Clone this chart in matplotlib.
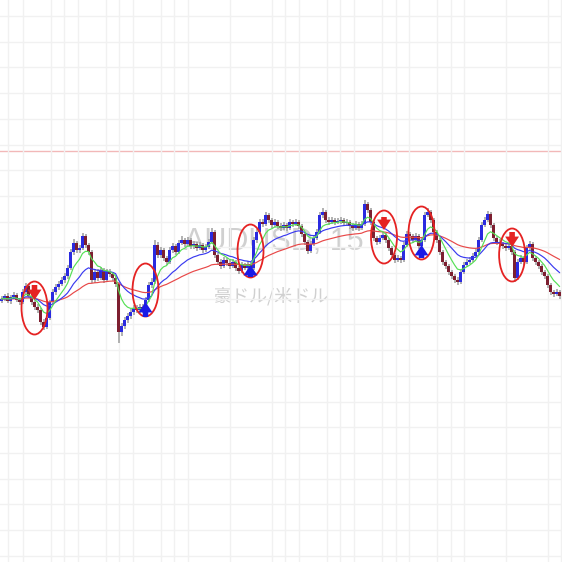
import numpy as np
import pandas as pd
import matplotlib
matplotlib.use("Agg")
import matplotlib.pyplot as plt
from matplotlib.patches import Ellipse
from matplotlib import font_manager

# ---------------- data (AUDUSD 15 min) ----------------
closes = [7301, 7304, 7299, 7303, 7305, 7300, 7298, 7308, 7314, 7304,
          7298, 7293, 7290, 7278, 7273, 7282, 7298, 7308, 7313, 7316,
          7320, 7324, 7332, 7348, 7357, 7350, 7352, 7364, 7355, 7348,
          7320, 7328, 7322, 7330, 7320, 7328, 7326, 7322, 7316, 7268,
          7274, 7280, 7284, 7288, 7292, 7290, 7293, 7290, 7300, 7315,
          7318, 7355, 7345, 7350, 7342, 7338, 7350, 7354, 7348, 7357,
          7360, 7356, 7360, 7354, 7356, 7352, 7355, 7350, 7353, 7358,
          7368, 7345, 7338, 7334, 7340, 7337, 7334, 7338, 7332, 7329,
          7335, 7332, 7336, 7332, 7360, 7368, 7378, 7376, 7385, 7380,
          7375, 7378, 7374, 7372, 7375, 7372, 7378, 7376, 7378, 7374,
          7366, 7358, 7349, 7356, 7362, 7368, 7385, 7388, 7380, 7378,
          7380, 7378, 7379, 7380, 7377, 7378, 7374, 7372, 7376, 7372,
          7376, 7396, 7390, 7378, 7362, 7358, 7362, 7365, 7360, 7352,
          7345, 7340, 7342, 7340, 7355, 7366, 7364, 7360, 7364, 7354,
          7360, 7385, 7388, 7380, 7368, 7360, 7348, 7338, 7334, 7328,
          7324, 7320, 7318, 7328, 7335, 7338, 7340, 7344, 7348, 7360,
          7375, 7380, 7386, 7375, 7362, 7358, 7356, 7354, 7352, 7354,
          7348, 7322, 7338, 7342, 7338, 7352, 7356, 7342, 7338, 7334,
          7328, 7324, 7315, 7308, 7306, 7308, 7304]
highs = [7304, 7306, 7307, 7305, 7308, 7307, 7302, 7311, 7317, 7316,
         7306, 7300, 7296, 7292, 7281, 7285, 7300, 7311, 7316, 7319,
         7323, 7327, 7335, 7351, 7361, 7359, 7355, 7367, 7366, 7357,
         7350, 7331, 7331, 7333, 7332, 7331, 7331, 7328, 7324, 7318,
         7277, 7283, 7287, 7291, 7295, 7295, 7296, 7296, 7303, 7318,
         7322, 7360, 7358, 7353, 7352, 7344, 7353, 7357, 7356, 7360,
         7364, 7362, 7363, 7362, 7359, 7358, 7358, 7357, 7356, 7361,
         7372, 7370, 7347, 7341, 7343, 7342, 7340, 7341, 7340, 7334,
         7338, 7337, 7339, 7338, 7363, 7371, 7381, 7381, 7388, 7387,
         7382, 7381, 7380, 7377, 7378, 7377, 7381, 7380, 7381, 7380,
         7376, 7368, 7360, 7359, 7365, 7371, 7388, 7392, 7390, 7383,
         7383, 7382, 7382, 7383, 7382, 7381, 7380, 7377, 7379, 7378,
         7379, 7400, 7398, 7392, 7380, 7364, 7365, 7368, 7367, 7362,
         7354, 7347, 7345, 7344, 7358, 7369, 7368, 7366, 7367, 7366,
         7363, 7388, 7392, 7390, 7382, 7370, 7362, 7350, 7340, 7336,
         7330, 7326, 7323, 7331, 7338, 7341, 7343, 7347, 7351, 7363,
         7378, 7383, 7389, 7388, 7377, 7364, 7361, 7358, 7356, 7357,
         7356, 7350, 7341, 7345, 7344, 7355, 7359, 7358, 7344, 7340,
         7336, 7330, 7326, 7317, 7310, 7311, 7310]
lows = [7297, 7299, 7297, 7296, 7301, 7298, 7295, 7296, 7306, 7302,
        7295, 7290, 7287, 7275, 7270, 7271, 7280, 7296, 7305, 7310,
        7314, 7317, 7321, 7330, 7345, 7347, 7347, 7350, 7352, 7345,
        7317, 7317, 7319, 7320, 7317, 7318, 7323, 7319, 7313, 7257,
        7264, 7271, 7277, 7281, 7285, 7287, 7287, 7287, 7288, 7298,
        7312, 7316, 7342, 7342, 7339, 7335, 7336, 7347, 7345, 7346,
        7355, 7353, 7354, 7351, 7351, 7349, 7350, 7347, 7348, 7351,
        7356, 7342, 7335, 7331, 7332, 7334, 7331, 7332, 7329, 7326,
        7327, 7330, 7330, 7329, 7330, 7357, 7366, 7373, 7374, 7377,
        7372, 7373, 7371, 7369, 7370, 7369, 7370, 7373, 7374, 7371,
        7363, 7355, 7346, 7347, 7354, 7360, 7366, 7382, 7377, 7375,
        7376, 7375, 7376, 7376, 7374, 7374, 7371, 7369, 7370, 7369,
        7370, 7374, 7387, 7375, 7359, 7355, 7356, 7360, 7357, 7349,
        7342, 7337, 7338, 7337, 7338, 7353, 7361, 7357, 7358, 7351,
        7352, 7358, 7383, 7377, 7365, 7357, 7345, 7335, 7331, 7325,
        7321, 7317, 7315, 7316, 7326, 7333, 7336, 7338, 7342, 7346,
        7358, 7373, 7378, 7372, 7359, 7355, 7353, 7351, 7349, 7350,
        7345, 7318, 7320, 7336, 7335, 7336, 7350, 7339, 7335, 7331,
        7325, 7321, 7312, 7305, 7303, 7304, 7301]
first_open = 7299

# signals: candle index, price at circle centre, direction
signal_idx = [11, 48, 83, 127.5, 140, 170.2]
signal_price = [7292, 7310, 7349, 7363, 7367, 7345]
signal_dir = ["down", "up", "up", "down", "up", "down"]
arrow_tip = [7300, 7298, 7335, 7370, 7355, 7353]
arrow_tail = [7315, 7283, 7323, 7383, 7342, 7368]

level_line = 7449
symbol_text = "AUDUSD, 15"
name_text = "豪ドル/米ドル"

# MA spans (candles)
ma_fast, ma_mid, ma_slow = 7, 18, 45

# ---------------- build ----------------
S = 1e-4
c = np.array(closes) * S
h = np.array(highs) * S
l = np.array(lows) * S
o = np.concatenate([[first_open * S], c[:-1]])
n = len(c)
x = np.arange(n) + 0.5

installed = {f.name for f in font_manager.fontManager.ttflist}
if "Liberation Sans Narrow" in installed:
    sym_family, sym_size = "Liberation Sans Narrow", 25.5
else:
    sym_family, sym_size = "Liberation Sans", 22

fig = plt.figure(figsize=(5.62, 5.62), dpi=100)
fig.patch.set_facecolor("white")
ax = fig.add_axes([0, 0, 1, 1])
ax.set_facecolor("white")

ax.set_xlim(0, 562 / 3)
ax.set_ylim(0.7038, 0.7600)

# grid
grid_px_x = [8, 23, 51, 64, 78, 106, 119, 133, 161, 174, 188, 230, 272,
             285, 299, 327, 340, 354, 382, 396, 409, 437, 451, 464, 506, 548, 561]
ax.set_xticks([p / 3 for p in grid_px_x])
ax.set_yticks(0.7584 - 0.00257 * np.arange(22))
ax.grid(True, color="#f1f1f1", linewidth=1.0, zorder=0)
ax.tick_params(length=0, labelbottom=False, labelleft=False)
for sp in ax.spines.values():
    sp.set_visible(False)

ax.axhline(level_line * S, color="#f2b8b8", linewidth=1.0, zorder=1)

# watermark
ax.text(0.487, 0.569, symbol_text, transform=ax.transAxes, ha="center", va="center",
        fontsize=sym_size, color="#d0d0d0", family=[sym_family, "DejaVu Sans"], zorder=1)
ax.text(0.484, 0.472, name_text, transform=ax.transAxes, ha="center", va="center",
        fontsize=13, color="#d0d0d0", family=["Noto Sans CJK JP", "DejaVu Sans"], zorder=1)

# moving averages
sc = pd.Series(c)
ma1 = sc.ewm(span=ma_fast, adjust=False).mean()
ma2 = sc.ewm(span=ma_mid, adjust=False).mean()
ma3 = sc.ewm(span=ma_slow, adjust=False).mean()

# candles
up = c >= o
ax.vlines(x, l, h, color="#a4a4a4", linewidth=1.2, zorder=2)
body_lo = np.minimum(o, c)
body_h = np.maximum(np.abs(c - o), 0.00010)
ax.bar(x[up], body_h[up], bottom=body_lo[up], width=0.85, color="#2a2ae0", zorder=3, linewidth=0)
ax.bar(x[~up], body_h[~up], bottom=body_lo[~up], width=0.85, color="#7d1f30", zorder=3, linewidth=0)

ax.plot(x, ma3, color="#e84848", linewidth=0.85, zorder=4)
ax.plot(x, ma2, color="#3a3af0", linewidth=0.85, zorder=4)
ax.plot(x, ma1, color="#55e055", linewidth=0.85, zorder=4)

# signal circles and arrows
for i, p, d, t0, t1 in zip(signal_idx, signal_price, signal_dir, arrow_tip, arrow_tail):
    xc = i + 0.5
    ax.add_patch(Ellipse((xc, p * S), width=26 / 3, height=0.0053, fill=False,
                         edgecolor="#e52222", linewidth=1.3, zorder=6))
    col = "#e52222" if d == "down" else "#1a1ae6"
    ax.annotate("", xy=(xc, t0 * S), xytext=(xc, t1 * S),
                arrowprops=dict(arrowstyle="simple,head_width=1.0,head_length=0.75,tail_width=0.4",
                                color=col, lw=0, shrinkA=0, shrinkB=0), zorder=7)

fig.savefig("out.png", dpi=100, facecolor="white")
